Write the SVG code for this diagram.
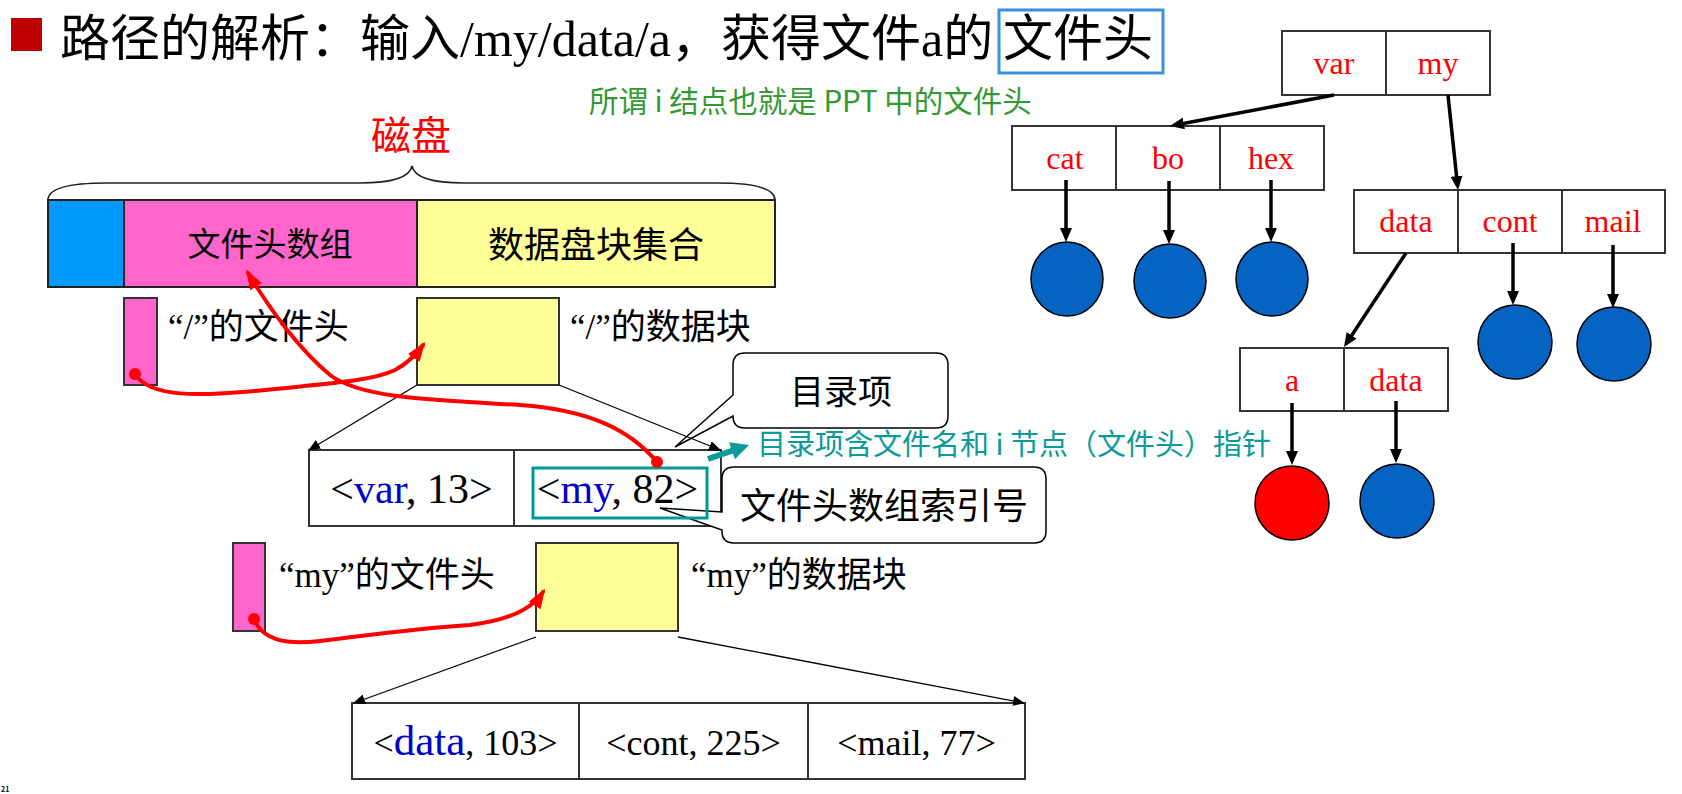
<svg xmlns="http://www.w3.org/2000/svg" width="1682" height="794" viewBox="0 0 1682 794">
<defs>
<style>
text{font-family:"Liberation Serif","Noto Sans CJK SC",serif;fill:#000}
.sans{font-family:"Noto Sans CJK SC",sans-serif}
.cell{fill:#fff;stroke:#333;stroke-width:2}
.pink{fill:#ff66cc;stroke:#333;stroke-width:2}
.yel{fill:#ffff99;stroke:#333;stroke-width:2}
.thin{stroke:#000;stroke-width:1.3;fill:none;marker-end:url(#ah)}
.thick{stroke:#000;stroke-width:3.5;fill:none;marker-end:url(#ahb)}
.red{stroke:#f00;stroke-width:4;fill:none;marker-end:url(#ahr);stroke-linecap:round}
.tl{font-size:32px;fill:#f00;text-anchor:middle}
.bl{fill:#0563c1;stroke:#000;stroke-width:1.5}
.call{fill:#fff;stroke:#000;stroke-width:1.5}
.lab{font-size:35px}
.mid{text-anchor:middle}
</style>
<marker id="ah" markerUnits="userSpaceOnUse" markerWidth="12" markerHeight="10" refX="11" refY="5" orient="auto"><path d="M0,0 L12,5 L0,10 z" fill="#000"/></marker>
<marker id="ahb" markerUnits="userSpaceOnUse" markerWidth="14" markerHeight="12" refX="10" refY="6" orient="auto"><path d="M0,0 L14,6 L0,12 z" fill="#000"/></marker>
<marker id="ahr" markerUnits="userSpaceOnUse" markerWidth="20" markerHeight="14" refX="16" refY="7" orient="auto"><path d="M0,0 L20,7 L0,14 z" fill="#f00"/></marker>
</defs>
<rect width="1682" height="794" fill="#fff"/>

<g id="title">
<rect x="11" y="18" width="31" height="33" fill="#c00000"/>
<text x="60" y="56" font-size="50">路径的解析：输入/my/data/a，获得文件a的<tspan x="1003">文件头</tspan></text>
<rect x="999" y="10" width="164" height="63" fill="none" stroke="#3b8fdf" stroke-width="3"/>
</g>
<g id="note-green">
<text class="sans" x="589" y="112" font-size="29.5" style="fill:#339933">所谓 i 结点也就是 PPT 中的文件头</text>
</g>

<g id="disk">
<path d="M48,200 C48,188 70,183 107,183 L360,183 C395,183 410,176 412,166 C414,176 429,183 464,183 L717,183 C754,183 775,188 775,200" fill="none" stroke="#222" stroke-width="1.6"/>
<text x="411" y="150" font-size="40" class="mid" style="fill:#f00">磁盘</text>
<rect x="48" y="200" width="76" height="87" fill="#0099ff" stroke="#222" stroke-width="2"/>
<rect x="124" y="200" width="293" height="87" fill="#ff66cc" stroke="#222" stroke-width="2"/>
<rect x="417" y="200" width="358" height="87" fill="#ffff99" stroke="#222" stroke-width="2"/>
<text x="270" y="256" font-size="33" class="mid">文件头数组</text>
<text x="596" y="258" font-size="36" class="mid">数据盘块集合</text>
</g>

<g id="root-header">
<rect class="pink" x="124" y="298" width="33" height="87"/>
<text class="lab" x="168" y="339">“/”的文件头</text>
</g>
<g id="root-block">
<rect class="yel" x="417" y="298" width="142" height="87"/>
<text class="lab" x="570" y="339">“/”的数据块</text>
</g>

<g id="root-dir">
<rect class="cell" x="309" y="450" width="205" height="76"/>
<rect class="cell" x="514" y="450" width="207" height="76"/>
</g>

<g id="callout-entry">
<path class="call" d="M745,353 H936 Q948,353 948,365 V416 Q948,428 936,428 H745 Q733,428 733,416 L675,447 L733,395 V365 Q733,353 745,353 Z"/>
<text x="841" y="404" font-size="34" class="mid">目录项</text>
</g>
<g id="callout-index">
<path class="call" d="M734,467 H1034 Q1046,467 1046,479 V531 Q1046,543 1034,543 H734 Q722,543 722,531 V530 L660,508 L722,512 V479 Q722,467 734,467 Z"/>
<text x="884" y="519" font-size="36" class="mid">文件头数组索引号</text>
</g>

<g id="root-dir-text">
<text x="411.5" y="503" font-size="42" class="mid">&lt;<tspan style="fill:#0000cc">var</tspan>, 13&gt;</text>
<text x="617.5" y="503" font-size="42" class="mid">&lt;<tspan style="fill:#0000cc">my</tspan>, 82&gt;</text>
<rect x="533" y="468" width="174" height="50" fill="none" stroke="#009999" stroke-width="3"/>
</g>

<g id="note-teal">
<text class="sans" x="757" y="455" font-size="29" style="fill:#0a9a9a">目录项含文件名和 i 节点（文件头）指针</text>
</g>

<g id="my-header">
<rect class="pink" x="233" y="543" width="32" height="88"/>
<text class="lab" x="279" y="587">“my”的文件头</text>
</g>
<g id="my-block">
<rect class="yel" x="536" y="543" width="142" height="88"/>
<text class="lab" x="691" y="587">“my”的数据块</text>
</g>

<g id="my-dir">
<rect class="cell" x="352" y="703" width="227" height="76"/>
<rect class="cell" x="579" y="703" width="229" height="76"/>
<rect class="cell" x="808" y="703" width="217" height="76"/>
<text x="465.5" y="755" font-size="36" class="mid">&lt;<tspan font-size="43" style="fill:#0000cc">data</tspan>, 103&gt;</text>
<text x="693.5" y="755" font-size="36" class="mid">&lt;cont, 225&gt;</text>
<text x="916.5" y="755" font-size="36" class="mid">&lt;mail, 77&gt;</text>
</g>

<g id="tree-root">
<rect class="cell" x="1282" y="31" width="104" height="64"/>
<rect class="cell" x="1386" y="31" width="104" height="64"/>
<text class="tl" x="1334" y="74">var</text>
<text class="tl" x="1438" y="74">my</text>
</g>
<g id="tree-var">
<rect class="cell" x="1012" y="126" width="104" height="64"/>
<rect class="cell" x="1116" y="126" width="104" height="64"/>
<rect class="cell" x="1220" y="126" width="104" height="64"/>
<text class="tl" x="1065" y="169">cat</text>
<text class="tl" x="1168" y="169">bo</text>
<text class="tl" x="1271" y="169">hex</text>
</g>
<g id="tree-my">
<rect class="cell" x="1354" y="190" width="104" height="63"/>
<rect class="cell" x="1458" y="190" width="104" height="63"/>
<rect class="cell" x="1562" y="190" width="103" height="63"/>
<text class="tl" x="1406" y="232">data</text>
<text class="tl" x="1510" y="232">cont</text>
<text class="tl" x="1613" y="232">mail</text>
</g>
<g id="tree-data">
<rect class="cell" x="1240" y="348" width="104" height="63"/>
<rect class="cell" x="1344" y="348" width="104" height="63"/>
<text class="tl" x="1292" y="391">a</text>
<text class="tl" x="1396" y="391">data</text>
</g>
<g id="tree-leaves">
<ellipse class="bl" cx="1067" cy="279" rx="36" ry="37"/>
<ellipse class="bl" cx="1170" cy="281" rx="36" ry="37"/>
<ellipse class="bl" cx="1272" cy="279" rx="36" ry="37"/>
<ellipse class="bl" cx="1515" cy="342" rx="37" ry="37"/>
<ellipse class="bl" cx="1614" cy="344" rx="37" ry="37"/>
<ellipse cx="1292" cy="503" rx="37" ry="37" fill="#ff0000" stroke="#000" stroke-width="1.5"/>
<ellipse class="bl" cx="1397" cy="501" rx="37" ry="37"/>
</g>

<g id="connectors">
<line class="thin" x1="417" y1="385" x2="309" y2="450"/>
<line class="thin" x1="559" y1="385" x2="720" y2="450"/>
<line class="thin" x1="536" y1="637" x2="354" y2="703"/>
<line class="thin" x1="678" y1="637" x2="1024" y2="703"/>
<path class="red" d="M135,374 C150,398 200,396 255,391 C320,384 370,382 395,370 C410,362 418,352 423,345"/>
<circle cx="135" cy="374" r="6" fill="#f00"/>
<path class="red" d="M657,462 C630,430 590,410 520,405 C430,400 360,398 330,375 C300,350 270,310 248,273"/>
<circle cx="657" cy="462" r="6" fill="#f00"/>
<path class="red" d="M254,619 C262,640 285,645 320,641 C370,635 420,628 470,625 C510,620 533,608 543,592"/>
<circle cx="254" cy="619" r="6" fill="#f00"/>
<polygon points="707,456.2 731,448 729.1,442.3 749,445 734.9,459.3 733,453.6 709,461.8" fill="#0a9a9a"/>
<line class="thick" x1="1334" y1="95" x2="1174" y2="125.3"/>
<line class="thick" x1="1448" y1="95" x2="1457.6" y2="186"/>
<line class="thick" x1="1066" y1="180" x2="1066" y2="238"/>
<line class="thick" x1="1169" y1="181" x2="1169" y2="240"/>
<line class="thick" x1="1271" y1="180" x2="1271" y2="238"/>
<line class="thick" x1="1513" y1="243" x2="1513" y2="301"/>
<line class="thick" x1="1613" y1="245" x2="1613" y2="304"/>
<line class="thick" x1="1406" y1="253" x2="1346.2" y2="343.7"/>
<line class="thick" x1="1292" y1="403" x2="1292" y2="461"/>
<line class="thick" x1="1396" y1="401" x2="1396" y2="459"/>
</g>

<text class="sans" x="1" y="792" font-size="7" font-weight="bold">21</text>
</svg>
